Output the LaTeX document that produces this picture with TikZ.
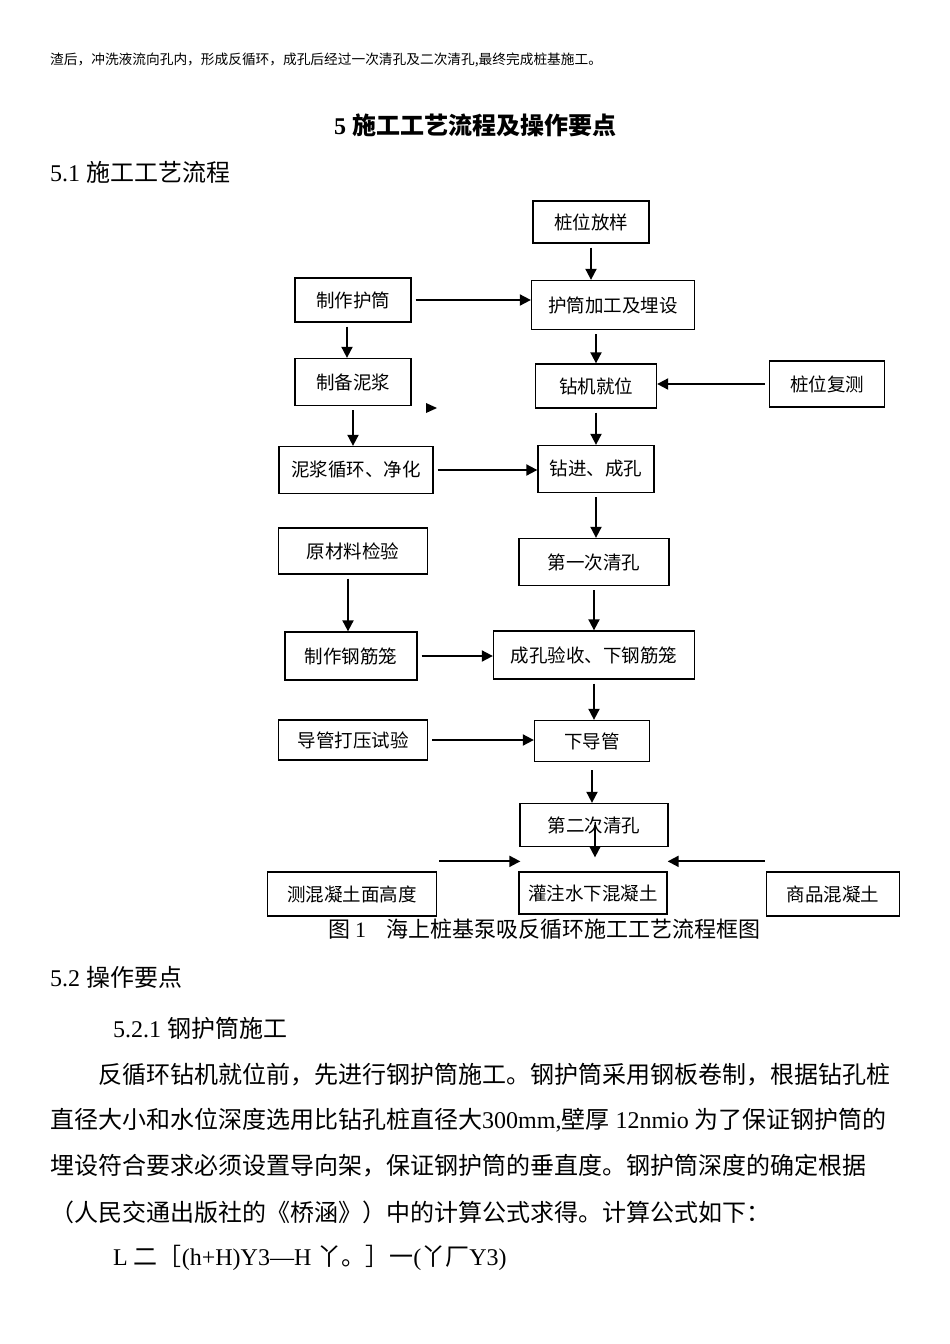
\documentclass[tikz,border=0pt]{standalone}
\usepackage{fontspec}
\setmainfont{Liberation Serif}
\newfontfamily\cjk{Noto Sans CJK SC}
\usetikzlibrary{arrows.meta,calc}
\tikzset{
  kuang/.style={draw,line width=1.3pt,inner sep=0pt,align=center,
    minimum height=44pt,font=\cjk\fontsize{18.5}{22}\selectfont},
  jian/.style={line width=1.9pt,-{Triangle[length=11pt,width=11pt]},shorten <=4pt},
  wen/.style={inner sep=0pt,anchor=west},
  zheng/.style={font=\fontsize{24}{28}\selectfont},
}

\begin{document}
\begin{tikzpicture}[x=1pt,y=-1pt]
  \useasboundingbox (0,0) rectangle (950,1344);
  % text above the chart
  \node[wen,font=\cjk\fontsize{13.7}{16}\selectfont] (shangwen) at (50,60)
    {渣后，冲洗液流向孔内，形成反循环，成孔后经过一次清孔及二次清孔,最终完成桩基施工。};
  \node[zheng,font=\fontsize{24}{28}\selectfont\bfseries] (biaoti) at (475,125)
    {5 {\cjk 施工工艺流程及操作要点}};
  \node[wen,zheng] (xiao51) at (50,172) {5.1 {\cjk 施工工艺流程}};

  % flow chart boxes
  \node[kuang,minimum width=116pt,minimum height=42pt] (fang) at (591,222) {桩位放样};
  \node[kuang,minimum width=163pt,minimum height=49pt] (hujia) at (613,305) {护筒加工及埋设};
  \node[kuang,minimum width=116pt] (zhihu) at (353,300) {制作护筒};
  \node[kuang,minimum width=116pt,minimum height=47pt] (nijiang) at (353,382) {制备泥浆};
  \node[kuang,minimum width=121pt] (jiuwei) at (596,386) {钻机就位};
  \node[kuang,minimum width=115pt,minimum height=46pt] (fuce) at (827,384) {桩位复测};
  \node[kuang,minimum width=154pt,minimum height=47pt] (xunhuan) at (356,470) {泥浆循环、净化};
  \node[kuang,minimum width=116pt,minimum height=47pt] (zuanjin) at (596,469) {钻进、成孔};
  \node[kuang,minimum width=149pt,minimum height=46pt] (yuancai) at (353,551) {原材料检验};
  \node[kuang,minimum width=150pt,minimum height=47pt] (qing1) at (594,562) {第一次清孔};
  \node[kuang,minimum width=132pt,minimum height=48pt] (gangjin) at (351,656) {制作钢筋笼};
  \node[kuang,minimum width=201pt,minimum height=48pt] (yanshou) at (594,655) {成孔验收、下钢筋笼};
  \node[kuang,minimum width=149pt,minimum height=40pt] (daya) at (353,740) {导管打压试验};
  \node[kuang,minimum width=115pt,minimum height=41pt] (xiadao) at (592,741) {下导管};
  \node[kuang,minimum width=148pt,minimum height=43pt] (qing2) at (594,825) {第二次清孔};
  \node[kuang,minimum width=169pt] (cehun) at (352,894) {测混凝土面高度};
  \node[kuang,minimum width=148pt,minimum height=42pt] (guanzhu) at (593,893) {灌注水下混凝土};
  \node[kuang,minimum width=133pt] (shangpin) at (833,894) {商品混凝土};

  \coordinate (zuoqi) at ($(cehun.north east)+(2,-10)$);
  \coordinate (zuozhi) at ($(guanzhu.north west)+(2,-10)$);
  \coordinate (youqi) at ($(shangpin.north west)+(-1,-10)$);
  \coordinate (youzhi) at ($(guanzhu.north east)+(0,-10)$);
  \coordinate (guanru) at ($(guanzhu.north)+(2,-14)$);

  % arrows
  \draw[jian] (fang.south) -- (fang.south |- hujia.north);
  \draw[jian] (zhihu.east) -- (zhihu.east -| hujia.west);
  \draw[jian] (hujia.south -| jiuwei) -- (jiuwei.north);
  \draw[jian] (fuce.west) -- (fuce.west -| jiuwei.east);
  \draw[jian] ([xshift=-6pt]zhihu.south) -- ([xshift=-6pt]zhihu.south |- nijiang.north);
  \draw[jian] (nijiang.south) -- (nijiang.south |- xunhuan.north);
  \draw[jian] (jiuwei.south) -- (jiuwei.south |- zuanjin.north);
  \draw[jian] (xunhuan.east) -- (xunhuan.east -| zuanjin.west);
  \draw[jian] (zuanjin.south) -- (zuanjin.south |- qing1.north);
  \draw[jian] ([xshift=-5pt]yuancai.south) -- ([xshift=-5pt]yuancai.south |- gangjin.north);
  \draw[jian] (qing1.south) -- (qing1.south |- yanshou.north);
  \draw[jian] (gangjin.east) -- (gangjin.east -| yanshou.west);
  \draw[jian] (yanshou.south) -- (yanshou.south |- xiadao.north);
  \draw[jian] (daya.east) -- (daya.east -| xiadao.west);
  \draw[jian,shorten <=8pt] (xiadao.south) -- (xiadao.south |- qing2.north);
  \draw[jian,shorten <=0pt] (qing2.center -| guanru) -- (guanru);
  \draw[jian,shorten <=0pt] (zuoqi) -- (zuozhi);
  \draw[jian,shorten <=0pt] (youqi) -- (youzhi);
  \fill (426,403) -- (437,408) -- (426,413) -- cycle;

  \node[wen,font=\cjk\fontsize{22}{26}\selectfont] (tuming) at (328,929)
    {图\ {\rmfamily 1}\hspace{20pt}海上桩基泵吸反循环施工工艺流程框图};

  % text below the chart
  \node[wen,zheng] (xiao52) at (50,977) {5.2 {\cjk 操作要点}};
  \node[wen,zheng] (xiao521) at (113,1028) {5.2.1 {\cjk 钢护筒施工}};
  \node[wen,zheng] (hang1) at (98,1075)
    {\cjk 反循环钻机就位前，先进行钢护筒施工。钢护筒采用钢板卷制，根据钻孔桩};
  \node[wen,zheng] (hang2) at (50,1120)
    {{\cjk 直径大小和水位深度选用比钻孔桩直径大}300mm,{\cjk 壁厚} 12nmio {\cjk 为了保证钢护筒的}};
  \node[wen,zheng] (hang3) at (50,1166)
    {\cjk 埋设符合要求必须设置导向架，保证钢护筒的垂直度。钢护筒深度的确定根据};
  \node[wen,zheng] (hang4) at (50,1212)
    {\cjk （人民交通出版社的《桥涵》）中的计算公式求得。计算公式如下：};
  \node[wen,zheng] (gongshi) at (113,1258)
    {L {\cjk 二［}(h+H)Y3—H {\cjk 丫。］一}({\cjk 丫厂}Y3)};
\end{tikzpicture}
\end{document}
